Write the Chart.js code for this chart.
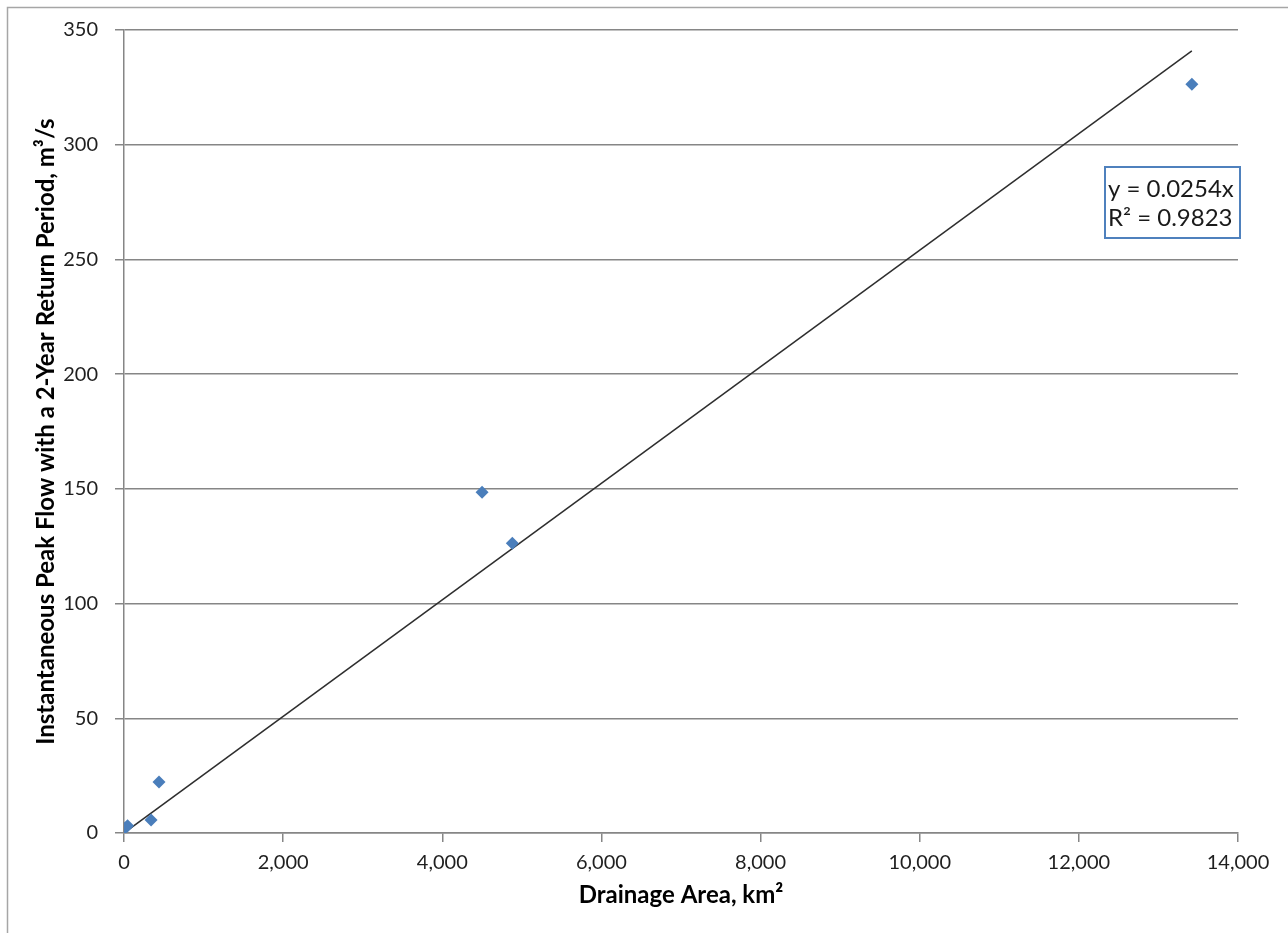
<!DOCTYPE html>
<html>
<head>
<meta charset="utf-8">
<script src="https://cdn.jsdelivr.net/npm/chart.js@4.4.1/dist/chart.umd.min.js"></script>
<style>
  html, body { margin: 0; padding: 0; background: #fff; }
  #wrap { width: 1288px; height: 933px; }
</style>
</head>
<body>
<div id="wrap"><canvas id="chart" width="1288" height="933"></canvas></div>
<script>
// Drainage area (km2) vs 2-year instantaneous peak flow (m3/s)
var areaKm2 = [15, 45, 340, 440, 4500, 4880, 13420];
var peakFlow = [2.2, 3.2, 5.7, 22.2, 148.5, 126.3, 326.3];

// linear fit through origin, as printed on the chart
var slope = 0.0254;
var rSquared = 0.9823;
var trendX = [0, 13420];

var xTicks = [0, 2000, 4000, 6000, 8000, 10000, 12000, 14000];
var yTicks = [0, 50, 100, 150, 200, 250, 300, 350];

var FONT = 'Lato, "Open Sans", sans-serif';

var scatterPts = areaKm2.map(function (x, i) { return {x: x, y: peakFlow[i]}; });
var trendPts = trendX.map(function (x) { return {x: x, y: slope * x}; });

// outer frame + equation box
var decorations = {
	id: 'decorations',
	beforeDraw: function (chart) {
		var ctx = chart.ctx;
		ctx.save();
		ctx.fillStyle = '#fff';
		ctx.fillRect(0, 0, chart.width, chart.height);
		ctx.strokeStyle = '#a6a6a6';
		ctx.lineWidth = 1.5;
		ctx.strokeRect(7.5, 7.5, chart.width + 20, chart.height + 20);
		ctx.restore();
	},
	afterDatasetsDraw: function (chart) {
		var ctx = chart.ctx;
		ctx.save();
		ctx.strokeStyle = '#4f81bd';
		ctx.lineWidth = 2;
		ctx.strokeRect(1105, 167, 135, 71);
		ctx.fillStyle = '#1a1a1a';
		ctx.font = '24px ' + FONT;
		ctx.textBaseline = 'middle';
		ctx.fillText('y = ' + slope + 'x', 1108, 189);
		ctx.fillText('R\u00b2 = ' + rSquared, 1108, 218);
		ctx.restore();
	}
};

new Chart(document.getElementById('chart'), {
	type: 'scatter',
	data: {
		datasets: [
			{
				label: 'Observed',
				data: scatterPts,
				pointStyle: 'rectRot',
				pointRadius: 6.5,
				pointHoverRadius: 6.5,
				backgroundColor: '#4a7ebb',
				borderColor: '#4a7ebb',
				borderWidth: 0,
				order: 1
			},
			{
				label: 'Linear fit',
				data: trendPts,
				showLine: true,
				pointRadius: 0,
				borderColor: '#2e2e2e',
				borderWidth: 1.5,
				order: 2
			}
		]
	},
	plugins: [decorations],
	options: {
		responsive: false,
		animation: false,
		layout: {padding: {left: 0, top: 30, right: 50, bottom: 0}},
		plugins: {
			legend: {display: false},
			tooltip: {enabled: false}
		},
		scales: {
			x: {
				type: 'linear',
				min: 0,
				max: 14000,
				afterFit: function (s) { s.height = 100; },
				afterBuildTicks: function (s) { s.ticks = xTicks.map(function (v) { return {value: v}; }); },
				grid: {drawOnChartArea: false, drawTicks: true, tickLength: 9, color: '#868686', lineWidth: 1.5},
				border: {color: '#868686', width: 1.5},
				ticks: {
					color: '#1f1f1f',
					font: {family: FONT, size: 20},
					padding: 9,
					maxRotation: 0,
					callback: function (v) { return v.toLocaleString('en-US'); }
				},
				title: {
					display: true,
					text: 'Drainage Area, km\u00b2',
					color: '#000',
					font: {family: FONT, size: 24, weight: 'bold'},
					padding: {top: 23, bottom: 23}
				}
			},
			y: {
				type: 'linear',
				min: 0,
				max: 350,
				afterFit: function (s) { s.width = 124; },
				afterBuildTicks: function (s) { s.ticks = yTicks.map(function (v) { return {value: v}; }); },
				grid: {color: '#868686', lineWidth: 1.5, tickLength: 9},
				border: {color: '#868686', width: 1.5},
				ticks: {
					color: '#1f1f1f',
					font: {family: FONT, size: 20},
					padding: 17
				},
				title: {
					display: true,
					text: 'Instantaneous Peak Flow with a 2-Year Return Period, m\u00b3/s',
					color: '#000',
					font: {family: FONT, size: 24, weight: 'bold'},
					padding: {top: 32, bottom: 32}
				}
			}
		}
	}
});
</script>
</body>
</html>
